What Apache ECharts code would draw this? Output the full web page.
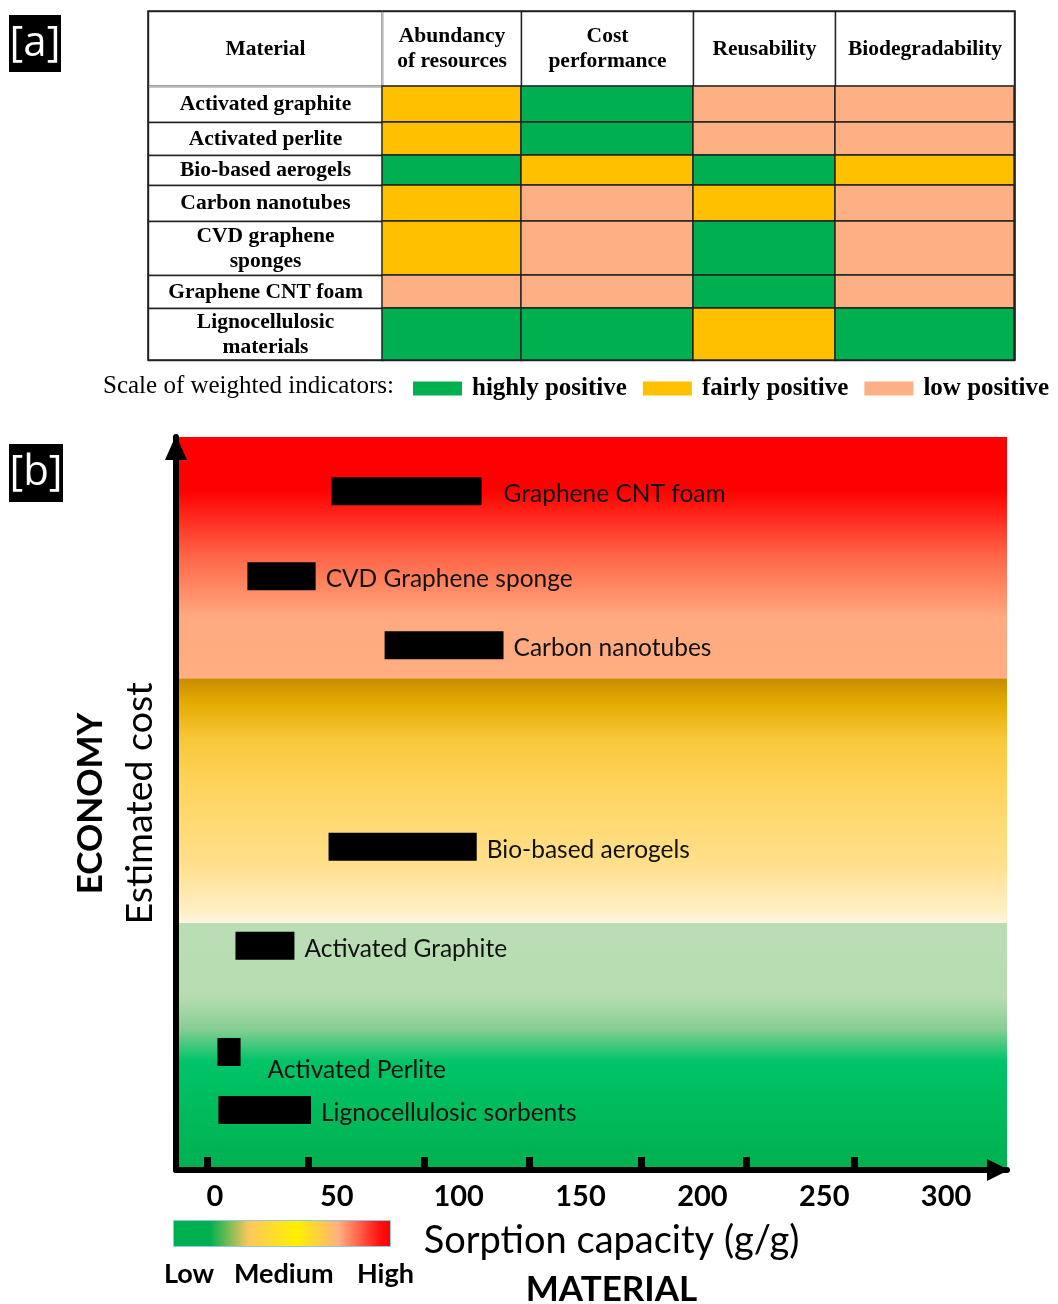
<!DOCTYPE html>
<html>
<head>
<meta charset="utf-8">
<script src="https://cdn.jsdelivr.net/npm/echarts@6/dist/echarts.min.js"></script>
<style>
  html, body { margin: 0; background: #fff; }
  #chart { width: 1058px; height: 1304px; }
</style>
</head>
<body>
<div id="chart"></div>
<script>
// ---- panel [a]: weighted indicators per material
const materials = ['Activated graphite', 'Activated perlite', 'Bio-based aerogels', 'Carbon nanotubes',
  'CVD graphene\nsponges', 'Graphene CNT foam', 'Lignocellulosic\nmaterials'];
const criteria = ['Abundancy\nof resources', 'Cost\nperformance', 'Reusability', 'Biodegradability'];
// 2 = highly positive, 1 = fairly positive, 0 = low positive
const ratings = [
  [1, 2, 0, 0],
  [1, 2, 0, 0],
  [2, 1, 2, 1],
  [1, 0, 1, 0],
  [1, 0, 2, 0],
  [0, 0, 2, 0],
  [2, 2, 1, 2]
];
const scaleLabels = ['highly positive', 'fairly positive', 'low positive'];

// ---- panel [b]: sorption capacity (g/g) vs estimated cost
const sorbents = ['Graphene CNT foam', 'CVD Graphene sponge', 'Carbon nanotubes', 'Bio-based aerogels',
  'Activated Graphite', 'Activated Perlite', 'Lignocellulosic sorbents'];
const capacityMin = [47.8, 13.3, 69.6, 46.6, 8.4, 1.0, 1.4];
const capacityMax = [109.4, 41.3, 118.4, 107.4, 32.6, 10.5, 39.4];
const costLevel = [92.6, 81.0, 71.6, 44.1, 30.6, 16.1, 8.2];
const xTickLabels = [0, 50, 100, 150, 200, 250, 300];
const xTickMarks = [-3.2, 38.2, 85.8, 128.9, 174.8, 217.9, 262.3];
const costBands = [0, 33.7, 67.1, 100]; // low / medium / high cost zones

// ---- layout + styles
const GREEN = '#00B050', GOLD = '#FFC000', SALMON = '#FDB083';
const colSizes = [139, 172, 142, 179];
const rowSizes = [36, 33, 30, 36, 54, 33, 52];
const serif = 'Liberation Serif';
const sans = 'Lato';
const labelShift = { 'Graphene CNT foam': [22, 3], 'Activated Perlite': [27, 18] };

const vGrad = (stops) => ({
  type: 'linear', x: 0, y: 0, x2: 0, y2: 1,
  colorStops: stops.map(s => ({ offset: s[0], color: s[1] }))
});
const bandFills = [
  vGrad([[0, '#BBDDB6'], [0.3, '#B6DCB0'], [0.43, '#86CE92'], [0.56, '#00C468'], [1, '#00B04E']]),
  vGrad([[0, '#C98B00'], [0.1, '#E3AB00'], [0.25, '#F8C83A'], [0.45, '#FFD45E'], [0.75, '#FFDF8A'], [0.95, '#FFEFC4'], [1, '#FFF6E0']]),
  vGrad([[0, '#FF0000'], [0.22, '#FF0000'], [0.5, '#FF6748'], [0.75, '#FFAA80'], [1, '#FFAD82']])
];

const heatData = [];
ratings.forEach((row, r) => row.forEach((v, c) => heatData.push([criteria[c], materials[r], v])));

const cellLabel = {
  fontFamily: serif, fontWeight: 'bold', fontSize: 21.5, lineHeight: 25, color: '#000',
  overflow: 'none', lineOverflow: 'none', padding: 0
};
const cellBorder = { color: '#fff', borderColor: '#222', borderWidth: 1.4 };

const chart = echarts.init(document.getElementById('chart'));

const option = {
  animation: false,
  backgroundColor: '#fff',
  title: {
    text: 'Scale of weighted indicators:',
    left: 98, top: 369,
    textStyle: { fontFamily: serif, fontWeight: 'normal', fontSize: 25, color: '#000' }
  },
  matrix: {
    left: 148, top: 11, width: 867, height: 349,
    x: {
      data: criteria.map((c, i) => ({ value: c, size: colSizes[i] })),
      levelSize: 75,
      label: cellLabel,
      itemStyle: cellBorder
    },
    y: {
      data: materials.map((m, i) => ({ value: m, size: rowSizes[i] })),
      levelSize: 234,
      label: cellLabel,
      itemStyle: cellBorder
    },
    corner: {
      data: [{ coord: [-1, -1], value: 'Material' }],
      label: cellLabel,
      itemStyle: cellBorder
    },
    body: { itemStyle: { borderColor: '#222', borderWidth: 1.4 } },
    backgroundStyle: { borderColor: '#222', borderWidth: 1.6 }
  },
  visualMap: {
    type: 'piecewise',
    seriesIndex: 0,
    orient: 'horizontal',
    inverse: true,
    left: 398, top: 361,
    itemSymbol: 'rect',
    itemWidth: 49, itemHeight: 14,
    itemGap: 16, textGap: 10,
    pieces: [
      { value: 2, label: scaleLabels[0], color: GREEN },
      { value: 1, label: scaleLabels[1], color: GOLD },
      { value: 0, label: scaleLabels[2], color: SALMON }
    ],
    textStyle: { fontFamily: serif, fontWeight: 'bold', fontSize: 25, color: '#000' },
    selectedMode: false
  },
  grid: { left: 176, right: 51, top: 437, bottom: 134, outerBoundsMode: 'none' },
  xAxis: {
    type: 'value', min: -16, max: 325, z: 10,
    axisLine: {
      show: true, onZero: false,
      lineStyle: { color: '#000', width: 6 },
      symbol: ['none', 'triangle'], symbolSize: [22, 22], symbolOffset: [0, -9]
    },
    axisTick: { show: true, inside: true, length: 13, lineStyle: { color: '#000', width: 7 }, customValues: xTickMarks },
    axisLabel: { customValues: xTickLabels, fontFamily: sans, fontWeight: 'bold', fontSize: 29, color: '#000', margin: 12 },
    splitLine: { show: false },
    name: '{a|Sorption capacity (g/g)}\n{b|MATERIAL}',
    nameLocation: 'middle', nameGap: 46,
    nameTextStyle: {
      padding: [0, 0, 0, 40],
      rich: {
        a: { fontFamily: sans, fontSize: 38, color: '#000', lineHeight: 49 },
        b: { fontFamily: sans, fontSize: 35, fontWeight: 'bold', color: '#000', lineHeight: 49 }
      }
    }
  },
  yAxis: {
    type: 'value', min: 0, max: 100, z: 10,
    axisLine: {
      show: true, onZero: false,
      lineStyle: { color: '#000', width: 6 },
      symbol: ['none', 'triangle'], symbolSize: [22, 25], symbolOffset: [0, -10.5]
    },
    axisTick: { show: false },
    axisLabel: { show: false },
    splitLine: { show: false },
    name: '{a|ECONOMY}\n{b|Estimated cost}',
    nameLocation: 'middle', nameRotate: 90, nameGap: 12,
    nameTextStyle: {
      rich: {
        a: { fontFamily: sans, fontWeight: 'bold', fontSize: 35, lineHeight: 49, color: '#000' },
        b: { fontFamily: sans, fontSize: 37.5, lineHeight: 49, color: '#000' }
      }
    }
  },
  series: [
    {
      type: 'heatmap',
      coordinateSystem: 'matrix',
      data: heatData,
      itemStyle: { borderColor: '#222', borderWidth: 1.4 },
      label: { show: false }
    },
    {
      type: 'line',
      data: [],
      z: 1,
      silent: true,
      markArea: {
        silent: true,
        data: bandFills.map((fill, i) => [
          { yAxis: costBands[i], itemStyle: { color: fill, borderWidth: 0 } },
          { yAxis: costBands[i + 1] }
        ])
      }
    },
    {
      type: 'custom',
      z: 3,
      data: capacityMin.map((v, i) => [v, capacityMax[i], costLevel[i]]),
      encode: { x: [0, 1], y: 2 },
      renderItem: (params, api) => {
        const p0 = api.coord([api.value(0), api.value(2)]);
        const p1 = api.coord([api.value(1), api.value(2)]);
        const name = sorbents[params.dataIndex];
        const shift = labelShift[name] || [10, 3];
        return {
          type: 'group',
          children: [
            { type: 'rect', shape: { x: p0[0], y: p0[1] - 14, width: p1[0] - p0[0], height: 28 }, style: { fill: '#000' } },
            {
              type: 'text', x: p1[0] + shift[0], y: p1[1] + shift[1],
              style: { text: name, fill: '#111', fontFamily: sans, fontSize: 24.5, verticalAlign: 'middle', align: 'left' }
            }
          ]
        };
      }
    }
  ],
  graphic: [
    { type: 'rect', left: 9, top: 15, shape: { width: 52, height: 57 }, style: { fill: '#000' } },
    { type: 'text', x: 35, y: 44, style: { text: '[a]', fill: '#fff', fontFamily: 'Open Sans', fontSize: 42, align: 'center', verticalAlign: 'middle' } },
    { type: 'rect', left: 9, top: 444, shape: { width: 54, height: 58 }, style: { fill: '#000' } },
    { type: 'text', x: 36, y: 473, style: { text: '[b]', fill: '#fff', fontFamily: 'Open Sans', fontSize: 42, align: 'center', verticalAlign: 'middle' } },
    {
      type: 'rect', left: 173, top: 1220, shape: { width: 217, height: 26 },
      style: {
        stroke: '#8EC8E8', lineWidth: 1,
        fill: {
          type: 'linear', x: 0, y: 0, x2: 1, y2: 0,
          colorStops: [
            { offset: 0, color: '#00B050' }, { offset: 0.17, color: '#00B050' },
            { offset: 0.35, color: '#FFC85A' }, { offset: 0.57, color: '#FFF000' },
            { offset: 0.76, color: '#FFB080' }, { offset: 0.95, color: '#FF1010' }, { offset: 1, color: '#FF0000' }
          ]
        }
      }
    },
    { type: 'text', left: 164, top: 1261, style: { text: 'Low', fill: '#000', fontFamily: sans, fontWeight: 'bold', fontSize: 27 } },
    { type: 'text', left: 234, top: 1261, style: { text: 'Medium', fill: '#000', fontFamily: sans, fontWeight: 'bold', fontSize: 27 } },
    { type: 'text', left: 357, top: 1261, style: { text: 'High', fill: '#000', fontFamily: sans, fontWeight: 'bold', fontSize: 27 } }
  ]
};

chart.setOption(option);
</script>
</body>
</html>
